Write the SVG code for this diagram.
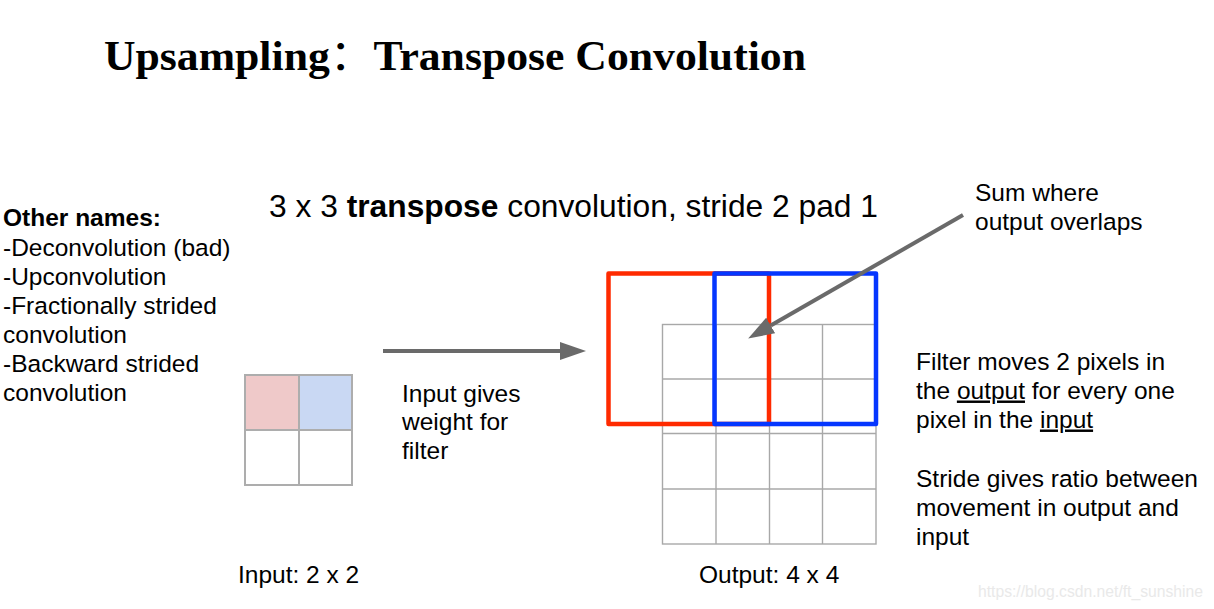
<svg xmlns="http://www.w3.org/2000/svg" width="1214" height="609" viewBox="0 0 1214 609">
<style>
.t{font-family:"Liberation Sans",Arial,sans-serif;font-size:24.5px;fill:#000}
.b{font-weight:bold}
.grid{fill:none;stroke:#a8a8a8;stroke-width:1.4}
.cell{stroke:#adadad;stroke-width:2}
.conn{stroke:#6a6a6a;stroke-width:4;fill:none}
</style>
<defs>
<marker id="ah" markerUnits="userSpaceOnUse" markerWidth="26" markerHeight="18" refX="0" refY="9" orient="auto" viewBox="0 0 26 18">
<path d="M0,0 L26,9 L0,18 z" fill="#6a6a6a"/>
</marker>
</defs>
<rect width="1214" height="609" fill="#fff"/>
<g id="title">
<text x="104" y="70" font-family="'Liberation Serif','Times New Roman','Noto Sans CJK SC',serif" font-weight="bold" font-size="42" textLength="702" lengthAdjust="spacingAndGlyphs">Upsampling<tspan font-family="'Noto Sans CJK SC',sans-serif" font-weight="normal">：</tspan>Transpose  Convolution</text>
</g>
<g id="heading">
<text class="t" x="269" y="217" style="font-size:31.5px" textLength="609" lengthAdjust="spacingAndGlyphs">3 x 3 <tspan class="b">transpose</tspan> convolution, stride 2 pad 1</text>
</g>
<g id="other-names">
<text class="t" x="3" y="226"><tspan class="b">Other names:</tspan></text>
<text class="t" x="3" y="255.5">-Deconvolution (bad)</text>
<text class="t" x="3" y="284.5">-Upconvolution</text>
<text class="t" x="3" y="313.5">-Fractionally strided</text>
<text class="t" x="3" y="342.5">convolution</text>
<text class="t" x="3" y="372">-Backward strided</text>
<text class="t" x="3" y="401">convolution</text>
</g>
<g id="input-grid">
<rect x="245" y="375" width="54" height="55" fill="#efc9c9"/>
<rect x="299" y="375" width="53" height="55" fill="#c9d8f3"/>
<rect class="cell" x="245" y="375" width="107" height="110" fill="none"/>
<line class="cell" x1="299" y1="375" x2="299" y2="485"/>
<line class="cell" x1="245" y1="430" x2="352" y2="430"/>
<text class="t" x="238" y="583">Input: 2 x 2</text>
</g>
<g id="input-note">
<text class="t" x="402" y="401.5">Input gives</text>
<text class="t" x="402" y="430">weight for</text>
<text class="t" x="402" y="458.5">filter</text>
</g>
<g id="output-grid">
<rect class="grid" x="662.5" y="324.5" width="213.5" height="219.5"/>
<line class="grid" x1="716" y1="324.5" x2="716" y2="544"/>
<line class="grid" x1="769.5" y1="324.5" x2="769.5" y2="544"/>
<line class="grid" x1="822.5" y1="324.5" x2="822.5" y2="544"/>
<line class="grid" x1="662.5" y1="379" x2="876" y2="379"/>
<line class="grid" x1="662.5" y1="433.5" x2="876" y2="433.5"/>
<line class="grid" x1="662.5" y1="489" x2="876" y2="489"/>
<text class="t" x="699" y="583">Output: 4 x 4</text>
</g>
<g id="filter-red">
<rect x="608.5" y="273.5" width="160.5" height="150.5" fill="none" stroke="#ff2a00" stroke-width="4.5" stroke-linejoin="round"/>
</g>
<g id="filter-blue">
<rect x="714.5" y="273.5" width="161.5" height="150.5" fill="none" stroke="#0536ff" stroke-width="4.5" stroke-linejoin="round"/>
</g>
<g id="sum-note">
<text class="t" x="975" y="201">Sum where</text>
<text class="t" x="975" y="230">output overlaps</text>
</g>
<g id="stride-note">
<text class="t" x="916" y="369.5">Filter moves 2 pixels in</text>
<text class="t" x="916" y="398.5">the <tspan text-decoration="underline">output</tspan> for every one</text>
<text class="t" x="916" y="427.5">pixel in the <tspan text-decoration="underline">input</tspan></text>
<text class="t" x="916" y="486.5">Stride gives ratio between</text>
<text class="t" x="916" y="515.5">movement in output and</text>
<text class="t" x="916" y="544.5">input</text>
</g>
<g id="connectors">
<line class="conn" x1="383" y1="351" x2="560" y2="351" marker-end="url(#ah)"/>
<line class="conn" x1="963" y1="215" x2="770.7" y2="325.5" marker-end="url(#ah)"/>
</g>
<g id="watermark">
<text x="978" y="597" font-family="'Liberation Sans',Arial,sans-serif" font-size="15.7" fill="#e9e9e9">https://blog.csdn.net/ft_sunshine</text>
</g>
</svg>
